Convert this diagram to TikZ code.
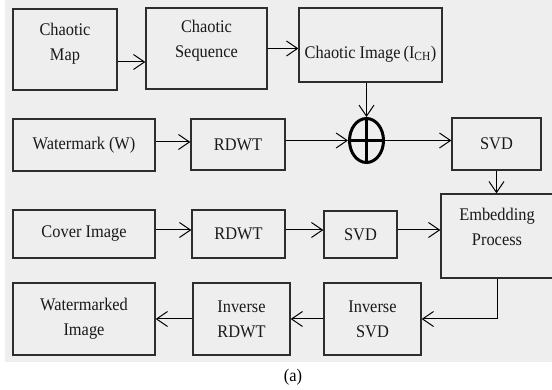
\documentclass[tikz,border=0pt]{standalone}
\usepackage{fontspec}
\setmainfont{Liberation Serif}[FakeStretch=0.92]
\usetikzlibrary{arrows.meta,shapes.geometric}
\definecolor{panel}{RGB}{238,238,238}
\definecolor{edge}{RGB}{45,45,45}
\definecolor{ink}{RGB}{25,25,25}
\begin{document}
\begin{tikzpicture}[x=1pt,y=-1pt,
  box/.style={draw=edge, line width=1.3pt, fill=panel, inner sep=0pt, align=center,
    text=ink, font=\fontsize{17.8}{25}\selectfont},
  lbl/.style={inner sep=0pt, align=center, text=ink, font=\fontsize{17.8}{25}\selectfont},
  arr/.style={line width=1pt, -{Straight Barb[length=11pt,width=15pt,line width=1pt]}}]
\useasboundingbox (0,0) rectangle (552,390);
\fill[panel] (5,0) rectangle (552,362);

% row 1: chaotic image generation
\node[box, minimum width=104pt, minimum height=81pt] (map) at (65,49.5) {};
\node[lbl] (mapT) at (65,43.5) {Chaotic\\Map};
\node[box, minimum width=121pt, minimum height=81pt] (seq) at (206.5,48.5) {};
\node[lbl] (seqT) at (206.5,40.6) {Chaotic\\Sequence};
\node[box, minimum width=143pt, minimum height=74pt] (chimg) at (370.5,45) {};
\node[lbl] (chimgT) at (370.5,54) {Chaotic Image\,(I\textsubscript{CH})};

% row 2: watermark path
\node[box, minimum width=142pt, minimum height=52pt] (wm) at (84,145) {Watermark (W)};
\node[box, minimum width=94pt, minimum height=51pt] (rdwtA) at (238,144.5) {RDWT};
\node[draw, ellipse, line width=3pt, minimum width=34pt, minimum height=44pt, inner sep=0pt] (xor) at (366.5,140.5) {};
\draw[line width=3pt] (xor.north) -- (xor.south) (xor.west) -- (xor.east);
\node[box, minimum width=89pt, minimum height=52pt] (svdA) at (496.5,144) {SVD};

% row 3: cover image path
\node[box, minimum width=142pt, minimum height=48pt] (cover) at (84,234) {Cover Image};
\node[box, minimum width=93pt, minimum height=48pt] (rdwtB) at (238.5,234) {RDWT};
\node[box, minimum width=73pt, minimum height=47pt] (svdB) at (360.5,234.5) {SVD};
\node[box, minimum width=112pt, minimum height=84pt] (emb) at (497,236) {};
\node[lbl] (embT) at (497,227) {Embedding\\Process};

% row 4: reconstruction
\node[box, minimum width=97pt, minimum height=72pt] (isvd) at (372.5,319) {Inverse\\SVD};
\node[box, minimum width=97pt, minimum height=72pt] (irdwt) at (241.5,319) {Inverse\\RDWT};
\node[box, minimum width=142pt, minimum height=72pt] (wmimg) at (84,319) {Watermarked\\Image};

% connectors
\coordinate (c1) at ([yshift=-12.5pt]map.east);
\draw[arr] (c1) -- (c1 -| seq.west);
\draw[arr] (seq.east) -- (seq.east -| chimg.west);
\draw[arr] (xor.north |- chimg.south) -- (xor.north);
\coordinate (c2) at ([yshift=3pt]wm.east);
\draw[arr] (c2) -- (c2 -| rdwtA.west);
\draw[arr] (rdwtA.east |- xor.west) -- (xor.west);
\draw[arr] (xor.east) -- (xor.east -| svdA.west);
\draw[arr] (svdA.south) -- (svdA.south |- emb.north);
\coordinate (c3) at ([yshift=4pt]cover.east);
\draw[arr] (c3) -- (c3 -| rdwtB.west);
\draw[arr] (c3 -| rdwtB.east) -- (c3 -| svdB.west);
\draw[arr] (c3 -| svdB.east) -- (c3 -| emb.west);
\draw[arr] (emb.south) |- (isvd.east);
\draw[arr] (isvd.west) -- (irdwt.east);
\draw[arr] (irdwt.west) -- (wmimg.east);

% caption
\node[lbl, text=black] (cap) at (293,377) {(a)};
\end{tikzpicture}
\end{document}
